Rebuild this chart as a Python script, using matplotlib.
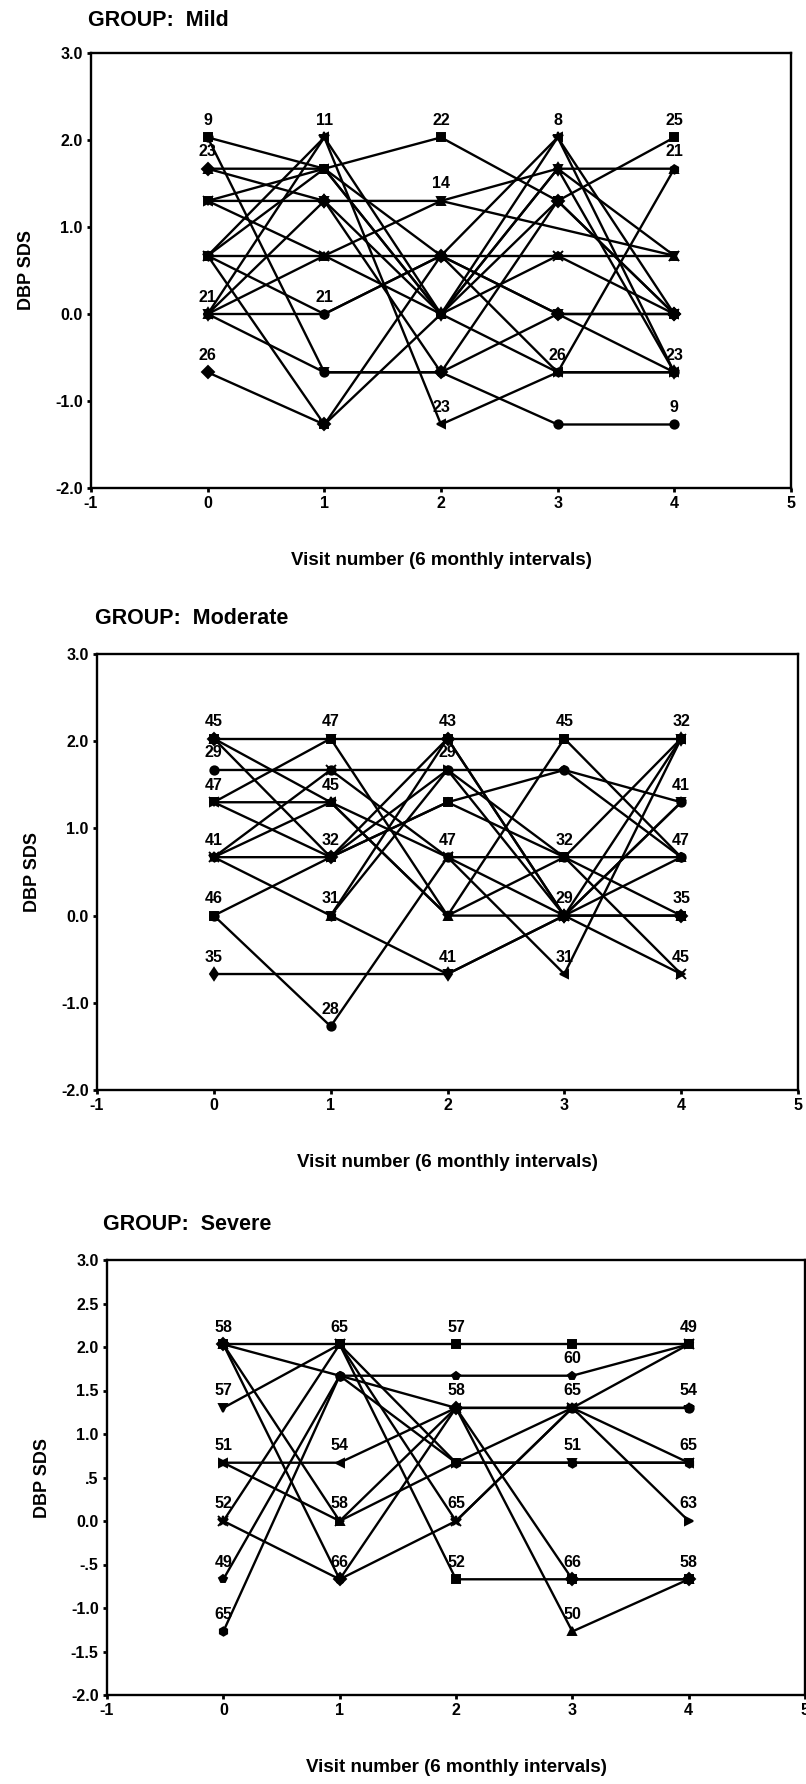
import numpy as np
import matplotlib
matplotlib.use("Agg")
import matplotlib.pyplot as plt

plt.rcParams['font.family'] = ['Liberation Sans', 'DejaVu Sans']

nan = np.nan
# discrete DBP SDS levels
A, B, C, D, E, F, G = 2.03, 1.67, 1.30, 0.67, 0.0, -0.67, -1.27

visits = [0, 1, 2, 3, 4]

# ---- Mild group: one row per subject, values at visits 0..4
mild_values = [
    [A, B, A, C, A],
    [A, F, F, G, G],
    [B, B, E, B, B],
    [B, C, F, C, E],
    [C, C, C, B, D],
    [C, B, D, A, E],
    [C, D, E, F, F],
    [D, D, D, D, D],
    [D, A, E, A, F],
    [D, B, E, D, E],
    [D, E, D, F, B],
    [D, G, E, C, E],
    [E, E, D, E, F],
    [E, C, E, B, F],
    [E, D, C, nan, D],
    [E, F, F, E, E],
    [F, G, D, E, E],
    [E, A, G, F, F],
]
mild_label_visit = [0, 0, 0, 0, 1, 1, 2, 2, 2, 3, 3, 4, 4, 4, 4]
mild_label_value = [A, B, E, F, A, E, A, C, G, A, F, A, B, F, G]
mild_label_text = ['9', '23', '21', '26', '11', '21', '22', '14', '23', '8', '26',
                   '25', '21', '23', '9']

# ---- Moderate group
moderate_values = [
    [A, A, A, A, A],
    [B, B, B, B, C],
    [A, C, E, A, D],
    [A, D, A, E, E],
    [C, A, E, D, A],
    [C, C, D, F, A],
    [C, D, B, D, F],
    [D, B, D, E, F],
    [D, C, E, E, C],
    [D, D, C, B, D],
    [D, E, A, E, D],
    [E, D, C, D, E],
    [E, G, D, D, D],
    [F, nan, F, E, A],
    [nan, E, B, E, E],
    [nan, E, F, E, C],
]
moderate_label_visit = [0, 0, 0, 0, 0, 0, 1, 1, 1, 1, 1, 2, 2, 2, 2, 3, 3, 3, 3,
                        4, 4, 4, 4, 4]
moderate_label_value = [A, B, C, D, E, F, A, C, D, E, G, A, B, D, F, A, D, E, F,
                        A, C, D, E, F]
moderate_label_text = ['45', '29', '47', '41', '46', '35', '47', '45', '32', '31',
                       '28', '43', '29', '47', '41', '45', '32', '29', '31',
                       '32', '41', '47', '35', '45']

# ---- Severe group
severe_values = [
    [A, A, A, A, A],
    [A, B, C, C, C],
    [A, E, C, G, F],
    [A, F, C, F, F],
    [C, A, D, D, D],
    [D, D, C, C, D],
    [D, E, D, C, E],
    [E, A, E, C, A],
    [E, F, E, C, C],
    [F, B, B, B, A],
    [G, B, D, D, D],
    [nan, A, F, F, F],
]
severe_label_visit = [0, 0, 0, 0, 0, 0, 1, 1, 1, 1, 2, 2, 2, 2, 3, 3, 3, 3, 3,
                      4, 4, 4, 4, 4]
severe_label_value = [A, C, D, E, F, G, A, D, E, F, A, C, E, F, B, C, D, F, G,
                      A, C, D, E, F]
severe_label_text = ['58', '57', '51', '52', '49', '65', '65', '54', '58', '66',
                     '57', '58', '65', '52', '60', '65', '51', '66', '50',
                     '49', '54', '65', '63', '58']

xticks = [-1, 0, 1, 2, 3, 4, 5]
yticks_coarse = [-2.0, -1.0, 0.0, 1.0, 2.0, 3.0]
ytick_labels_coarse = ['-2.0', '-1.0', '0.0', '1.0', '2.0', '3.0']
yticks_fine = [-2.0, -1.5, -1.0, -0.5, 0.0, 0.5, 1.0, 1.5, 2.0, 2.5, 3.0]
ytick_labels_fine = ['-2.0', '-1.5', '-1.0', '-.5', '0.0', '.5', '1.0', '1.5',
                     '2.0', '2.5', '3.0']

W, H = 806, 1784
fig = plt.figure(figsize=(W / 100, H / 100), dpi=100)
fig.patch.set_facecolor('white')

marker_cycle = ['s', 'o', '^', 'D', 'v', '<', '>', 'x', '*', 'p', 'h', 's',
                'o', 'd', '^', 'v', 'D', '<']
tick_font = dict(size=11.5, weight='bold')


def px_rect(x_left, x_right, y_top, y_bottom):
    return [x_left / W, 1 - y_bottom / H, (x_right - x_left) / W,
            (y_bottom - y_top) / H]


def draw_panel(rect, values, lab_v, lab_y, lab_t, yt, ytl, title, title_xy):
    ax = fig.add_axes(rect)
    for i, row in enumerate(values):
        y = np.array(row, dtype=float)
        x = np.array(visits, dtype=float)
        ok = ~np.isnan(y)
        mk = marker_cycle[i % len(marker_cycle)]
        ax.plot(x[ok], y[ok], color='black', lw=1.7, marker=mk,
                markersize=6 if mk not in ('x', '*') else 7,
                markeredgewidth=1.4, markerfacecolor='black',
                markeredgecolor='black', zorder=3)
    for v, yv, t in zip(lab_v, lab_y, lab_t):
        ax.annotate(t, (v, yv), xytext=(0, 17), textcoords='offset pixels',
                    ha='center', va='center', fontsize=11.5, fontweight='bold',
                    zorder=4)
    ax.set_xlim(-1, 5)
    ax.set_ylim(-2, 3)
    ax.set_xticks(xticks)
    ax.set_xticklabels([str(t) for t in xticks], **tick_font)
    ax.set_yticks(yt)
    ax.set_yticklabels(ytl, **tick_font)
    ax.tick_params(direction='out', length=3, width=2, pad=3, colors='black')
    for s in ax.spines.values():
        s.set_linewidth(1.7)
        s.set_color('black')
    ax.set_ylabel('DBP SDS', fontsize=13, fontweight='bold', labelpad=14)
    ax.set_xlabel('Visit number (6 monthly intervals)', fontsize=13.5,
                  fontweight='bold', labelpad=29)
    fig.text(title_xy[0] / W, 1 - title_xy[1] / H, title, fontsize=15.5,
             fontweight='bold', ha='left', va='center')
    return ax


draw_panel(px_rect(91, 791, 53, 488), mild_values, mild_label_visit,
           mild_label_value, mild_label_text, yticks_coarse,
           ytick_labels_coarse, 'GROUP:  Mild', (88, 20))
draw_panel(px_rect(97, 798, 654, 1090), moderate_values, moderate_label_visit,
           moderate_label_value, moderate_label_text, yticks_coarse,
           ytick_labels_coarse, 'GROUP:  Moderate', (95, 619))
draw_panel(px_rect(107, 805, 1260, 1695), severe_values, severe_label_visit,
           severe_label_value, severe_label_text, yticks_fine,
           ytick_labels_fine, 'GROUP:  Severe', (103, 1225))

fig.savefig('out.png', dpi=100, facecolor='white')
